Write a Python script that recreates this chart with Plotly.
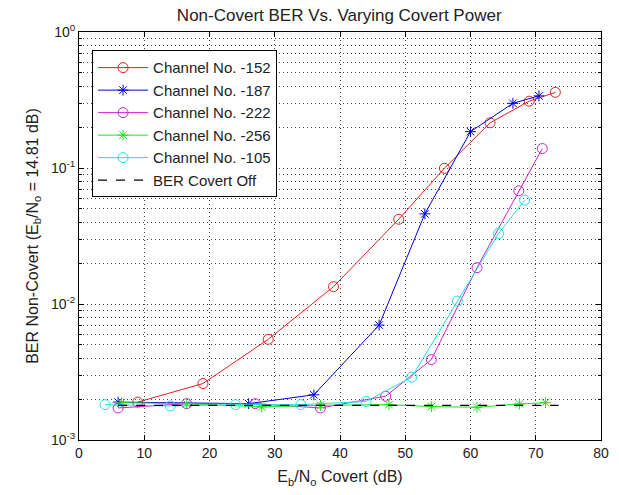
import plotly.graph_objects as go

title = "Non-Covert BER Vs. Varying Covert Power"

x152 = [9, 19, 29, 39, 49, 56, 63, 69, 73]
y152 = [0.0019, 0.0026, 0.0055, 0.0134, 0.042, 0.0995, 0.215, 0.31, 0.36]

x187 = [6, 26, 36, 46, 53, 60, 66.5, 70.5]
y187 = [0.0019, 0.00185, 0.00215, 0.0070, 0.046, 0.185, 0.299, 0.339]

x222 = [6, 16.5, 27, 37, 47, 54, 61, 67.4, 71]
y222 = [0.00172, 0.00185, 0.00185, 0.00172, 0.00210, 0.0039, 0.0185, 0.068, 0.139]

x256 = [6.5, 16.5, 28, 37, 47.5, 54, 61, 67.5, 71.5]
y256 = [0.00188, 0.00185, 0.00175, 0.00180, 0.00182, 0.00176, 0.00174, 0.00184, 0.00188]

x105 = [4, 14, 24, 34, 44, 51, 58, 64.3, 68.3]
y105 = [0.00182, 0.00178, 0.00182, 0.00182, 0.00192, 0.00290, 0.0105, 0.033, 0.058]

xoff = [6, 73.5]
yoff = [0.00180, 0.00180]

xticks = [0, 10, 20, 30, 40, 50, 60, 70, 80]
yticks = [1e-3, 1e-2, 1e-1, 1]
ytext = ["10<sup>-3</sup>", "10<sup>-2</sup>", "10<sup>-1</sup>", "10<sup>0</sup>"]
yminor = [m * 10.0 ** e for e in (-3, -2, -1) for m in range(2, 10)]

FONT = "Liberation Sans, Arial, sans-serif"
GRID = "#444444"
DOT = "1px,3px"

fig = go.Figure()

def add(x, y, name, color, symbol, size):
    fig.add_trace(go.Scatter(
        x=x, y=y, name=name, mode="lines+markers",
        line=dict(color=color, width=1),
        marker=dict(symbol=symbol, size=size, color=color,
                    line=dict(color=color, width=1)),
    ))

add(x152, y152, "Channel No. -152", "#e02020", "circle-open", 10)
add(x187, y187, "Channel No. -187", "#0000e0", "asterisk-open", 9)
add(x222, y222, "Channel No. -222", "#d020d0", "circle-open", 10)
add(x256, y256, "Channel No. -256", "#20e020", "asterisk-open", 9)
add(x105, y105, "Channel No. -105", "#20e0e0", "circle-open", 10)
fig.add_trace(go.Scatter(x=xoff, y=yoff, name="BER Covert Off", mode="lines",
                         line=dict(color="black", width=1.2, dash="dash")))

fig.update_layout(
    width=619, height=495,
    margin=dict(l=79, r=18, t=32, b=55, autoexpand=False),
    paper_bgcolor="white", plot_bgcolor="white",
    font=dict(family=FONT, size=14, color="#222222"),
    title=dict(text=title, x=0.548, xanchor="center", y=0.97, yanchor="middle",
               font=dict(size=17, family=FONT)),
    showlegend=True,
    legend=dict(x=0.025, y=0.955, xanchor="left", yanchor="top",
                bgcolor="white", bordercolor="black", borderwidth=1,
                font=dict(size=15, family=FONT), tracegroupgap=0,
                itemwidth=50),
)

fig.update_xaxes(
    range=[0, 80], tickvals=xticks, ticktext=[str(v) for v in xticks],
    showline=True, linecolor="black", linewidth=1, mirror="ticks",
    ticks="inside", ticklen=5, tickcolor="black",
    showgrid=True, gridcolor=GRID, griddash=DOT, gridwidth=1,
    zeroline=False, automargin=False, tickfont=dict(size=14),
    title=dict(text="E<sub>b</sub>/N<sub>o</sub> Covert (dB)", standoff=11,
               font=dict(size=16)),
)
fig.update_yaxes(
    type="log", range=[-3, 0], tickvals=yticks, ticktext=ytext,
    showline=True, linecolor="black", linewidth=1, mirror="ticks",
    ticks="inside", ticklen=5, tickcolor="black",
    showgrid=True, gridcolor=GRID, griddash=DOT, gridwidth=1,
    minor=dict(tickvals=yminor, ticks="inside", ticklen=3, tickcolor="black",
               showgrid=True, gridcolor=GRID, griddash=DOT, gridwidth=1),
    zeroline=False, automargin=False, tickfont=dict(size=14),
    title=dict(text="BER Non-Covert (E<sub>b</sub>/N<sub>o</sub> = 14.81 dB)",
               standoff=8, font=dict(size=16)),
)

fig.write_html("out.html", config={"displayModeBar": False},
               post_script="document.body.style.margin='0';")
